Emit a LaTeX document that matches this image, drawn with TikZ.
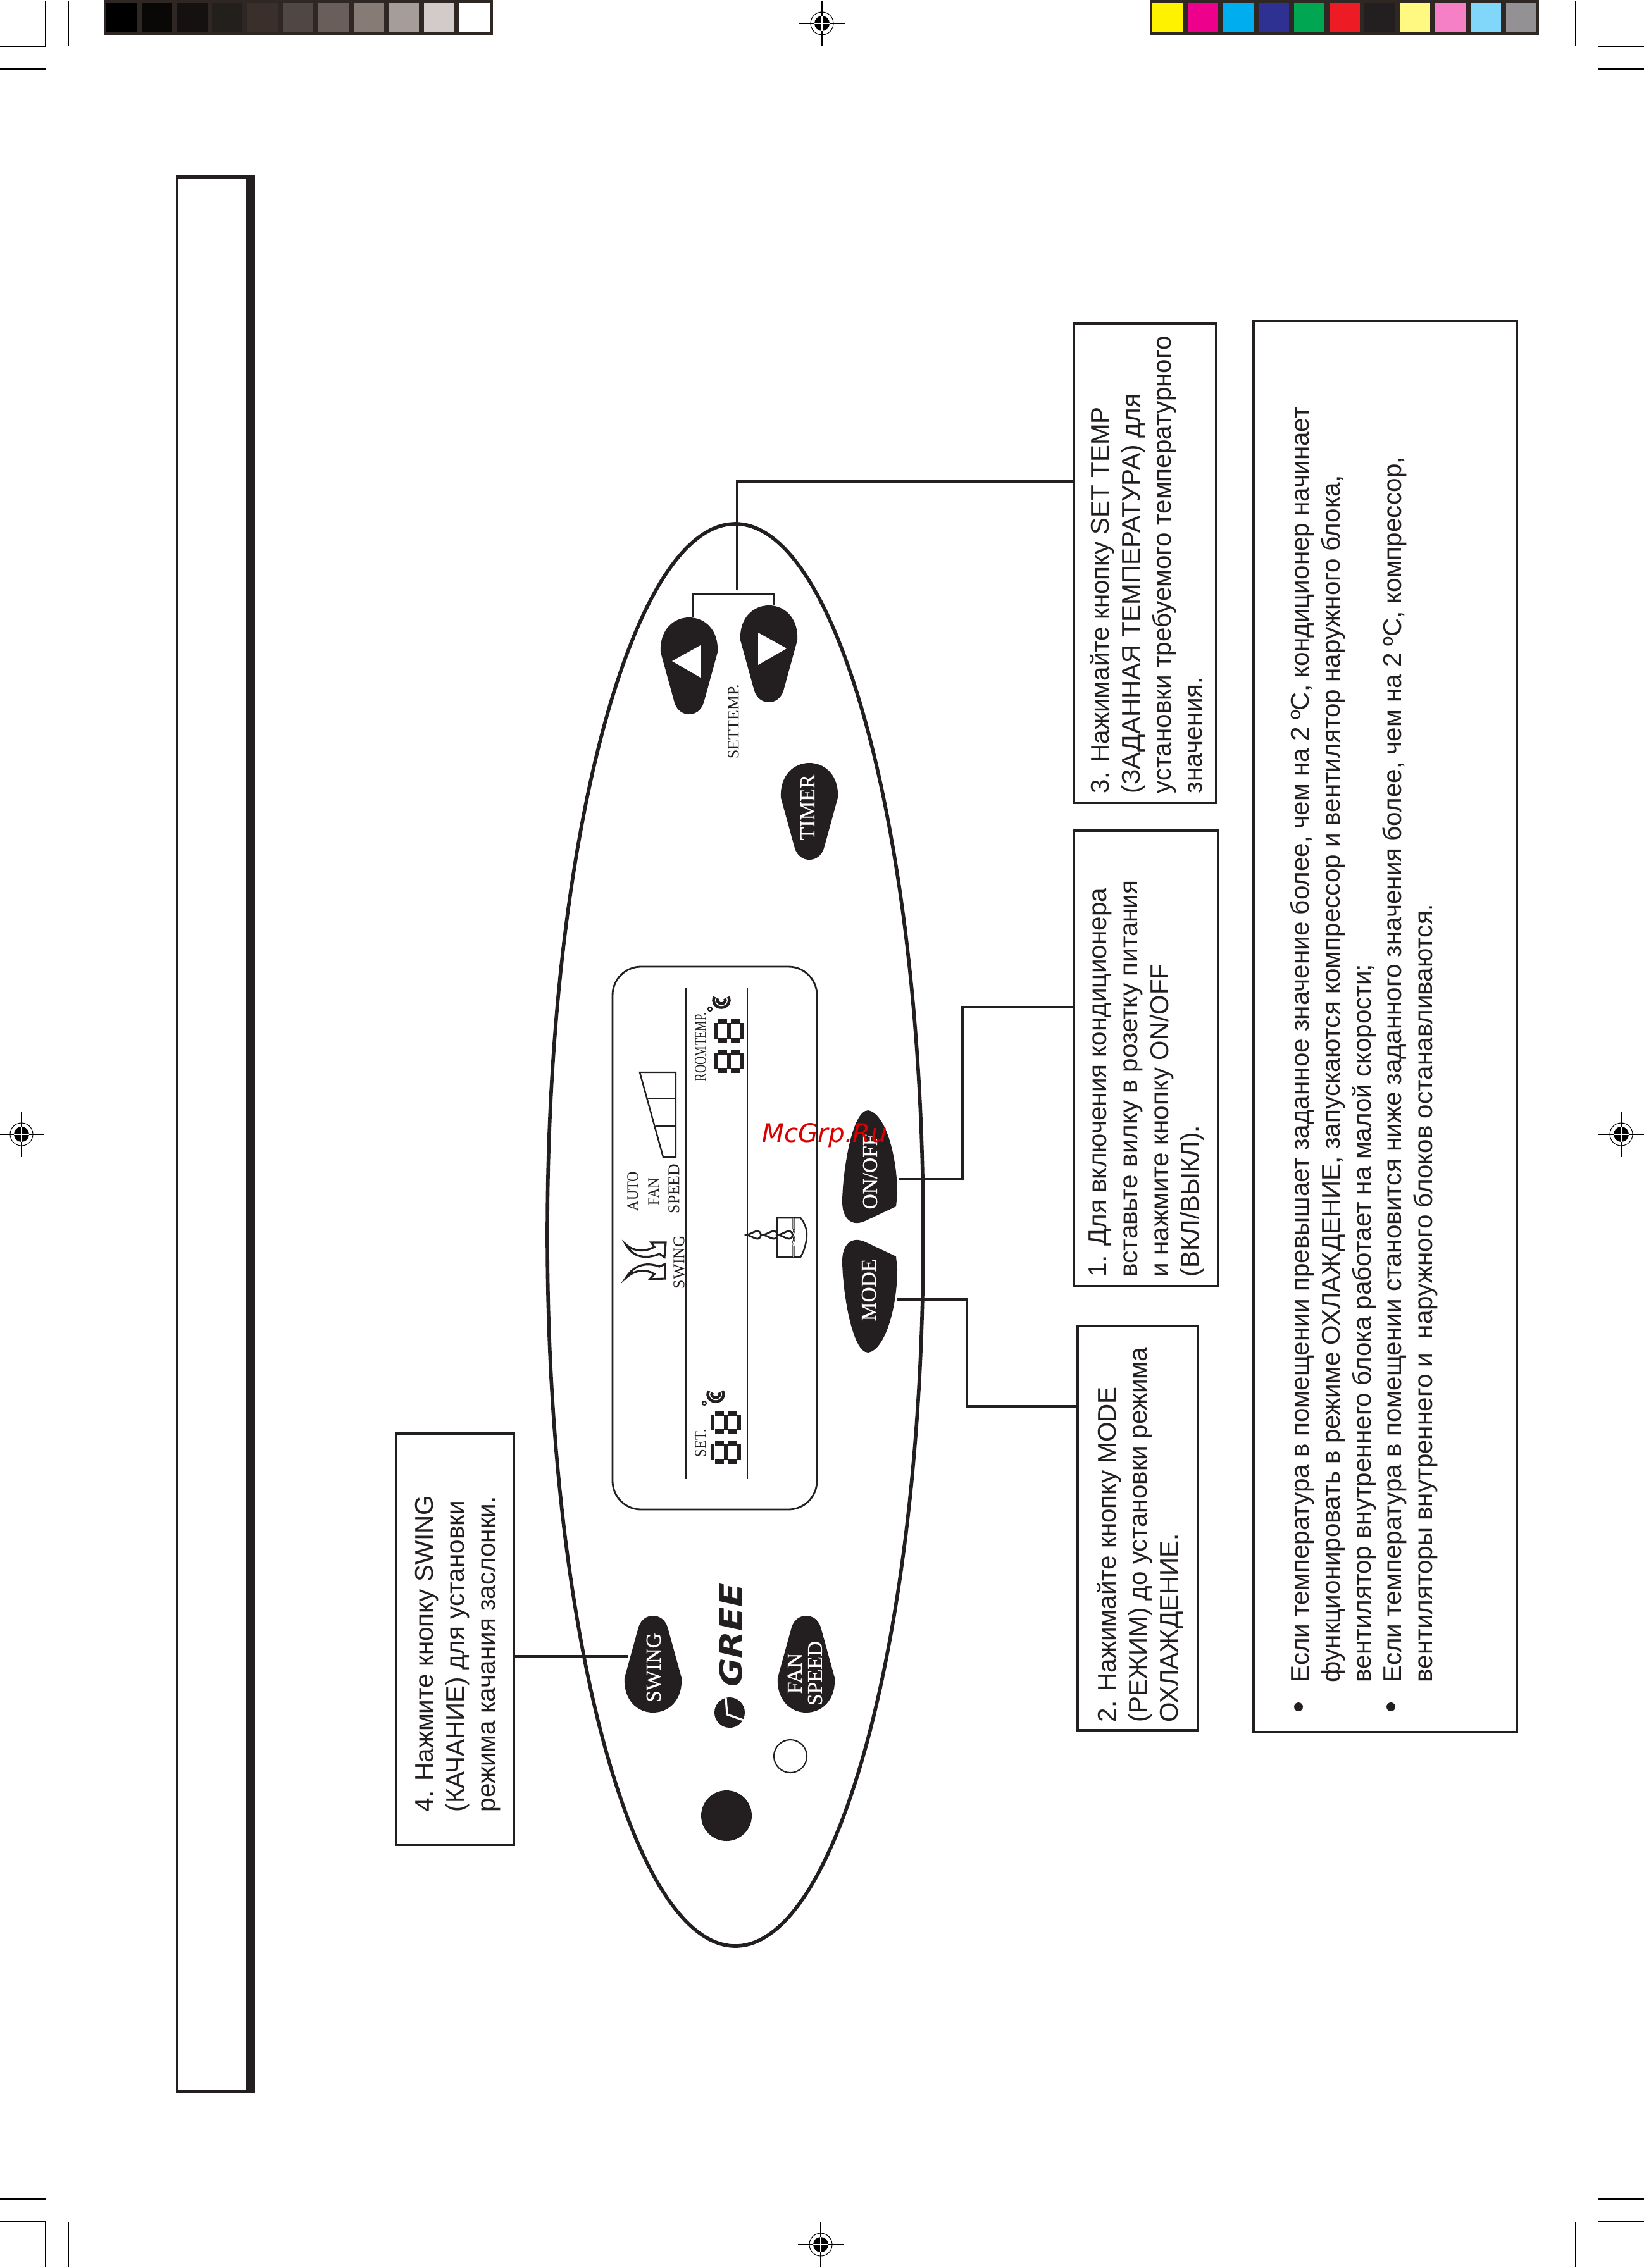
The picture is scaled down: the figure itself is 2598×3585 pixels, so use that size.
\documentclass[tikz,border=0pt]{standalone}
\usepackage{fontspec}
\setmainfont{Liberation Sans}
\newfontfamily\keyfont[FakeBold=0.6]{Liberation Serif}
\newfontfamily\lcdfont{Liberation Serif}
\newfontfamily\narrowfont[FakeStretch=0.88]{Liberation Serif}
\newfontfamily\roomfont[FakeStretch=0.72,WordSpace=0.2]{Liberation Serif}
\newfontfamily\tempfont[WordSpace=0.1]{Liberation Serif}
\newfontfamily\markfont{DejaVu Sans}
\newfontfamily\greefont[FakeStretch=1.15]{DejaVu Sans}
\definecolor{ink}{HTML}{231F20}
\definecolor{stripdark}{HTML}{2F2724}
\tikzset{
    wire/.style={ink, line width=1.1pt},
    notebox/.style={draw=ink, line width=1pt, inner sep=0pt, outer sep=0pt},
    notetext/.style={rotate=90, anchor=north west, inner sep=0pt, align=left, text=ink,
        font=\fontsize{11.5}{13.88}\selectfont},
    keylabel/.style={rotate=90, inner sep=0pt, text=white, align=center,
        font=\keyfont\fontsize{9.5}{9.1}\selectfont},
    lcdlabel/.style={rotate=90, inner sep=0pt, text=ink,
        font=\lcdfont\fontsize{7.3}{8}\selectfont},
    regmark/.pic={
        \draw[black, line width=0.3pt] (0,0) circle (18);
        \fill[black] (0,0) circle (12);
        \draw[black, line width=0.4pt] (-36,0) -- (36,0) (0,-36) -- (0,36);
        \draw[white, line width=0.4pt] (-12,0) -- (12,0) (0,-12) -- (0,12);
    },
    teardrop/.pic={
        \fill[ink] (-45,5) .. controls (-47,-30) and (-25,-50) .. (0,-50)
            .. controls (25,-50) and (47,-30) .. (45,5) -- (23,85)
            .. controls (19,97) and (10,103) .. (0,103)
            .. controls (-10,103) and (-19,97) .. (-23,85) -- cycle;
    },
    sidekey/.pic={
        \fill[ink] (0,0) .. controls (28,5) and (46,75) .. (46,132) -- (44,152) -- (-5,175)
            .. controls (-27,185) and (-41,170) .. (-41,145)
            .. controls (-41,105) and (-27,0) .. (0,0) -- cycle;
    },
    lcdeight/.pic={
        \foreach \s in {3,24,45}
            \draw[ink, line width=1.8pt] (\s,6) -- (\s,31);
        \foreach \s in {4,33} {
            \draw[ink, line width=2.4pt] (7,\s) -- (21,\s);
            \draw[ink, line width=2.4pt] (27,\s) -- (41,\s);
        }
    },
    lcddrop/.pic={
        \draw[ink, line width=0.8pt] (0,0) .. controls (8,-2) and (14,-7) .. (18,-6)
            .. controls (24,-5) and (24,5) .. (18,6) .. controls (14,7) and (8,2) .. (0,0) -- cycle;
    },
    lcdcelsius/.pic={
        \draw[ink, line width=0.6pt] (0,0) circle (3);
        \draw[ink, line width=1.3pt, double=white, double distance=0.4pt]
            (10,-18) .. controls (6,-12) and (11,-5.5) .. (18,-5.5)
            .. controls (25,-5.5) and (30,-12) .. (26,-18);
    }
}

\begin{document}
\begin{tikzpicture}[x=0.01cm, y=-0.01cm]
    \useasboundingbox (0,0) rectangle (2598,3585);

    % Grey strip
    \fill[stripdark] (164,0) rectangle (779,55);
    \foreach \i/\c in {0/000000,1/0A0806,2/141110,3/231F1C,4/3B2F2C,5/504643,6/6A5E5B,7/877B76,8/A69C99,9/D3CBCA,10/FFFFFF} {
        \definecolor{patch}{HTML}{\c}
        \fill[patch] ({168+55.8*\i},4) rectangle ({216+55.8*\i},51);
    }
    % Colour strip
    \fill[stripdark] (1817,0) rectangle (2432,55);
    \foreach \i/\c in {0/FFF200,1/EC008C,2/00AEEF,3/2E3192,4/00A651,5/ED1C24,6/231F20,7/FFF982,8/F680C5,9/80D7F9,10/939194} {
        \definecolor{patch}{HTML}{\c}
        \fill[patch] ({1821+55.9*\i},4) rectangle ({1869+55.9*\i},51);
    }

    % Crop marks
    \foreach \t/\e/\u in {2/73/109,3583/3512/3476} {
        \draw[black, line width=0.3pt] (72,\t) -- (72,\e) (108,\t) -- (108,\e)
            (2489,\t) -- (2489,\e) (2525,\t) -- (2525,\e);
        \draw[black, line width=0.4pt] (0,\e) -- (72,\e) (0,\u) -- (72,\u)
            (2525,\e) -- (2598,\e) (2525,\u) -- (2598,\u);
    }
    % Registration marks
    \pic at (1299,37) {regmark};
    \pic at (1297,3548) {regmark};
    \pic at (34,1793) {regmark};
    \pic at (2562,1793) {regmark};

    % Side panel
    \fill[ink] (278,276) rectangle (403,3308);
    \fill[white] (282,283) rectangle (388,3303);

    % Remote outline
    \draw[ink, line width=1.6pt] (1162,1952) ellipse [x radius=297, y radius=1124];

    % Display
    \draw[ink, line width=0.8pt, rounded corners=0.45cm] (968,1528) rectangle (1291,2386);
    \draw[ink, line width=0.8pt] (1084,1562) -- (1084,2338) (1181,1562) -- (1181,2338);
    \pic at (1128,1611) {lcdeight};
    \pic at (1128,1659) {lcdeight};
    \pic at (1123,2230) {lcdeight};
    \pic at (1123,2277) {lcdeight};
    \pic at (1122,1595) {lcdcelsius};
    \pic at (1113,2218) {lcdcelsius};
    \node[lcdlabel] (autotext) at (1000,1883) {\narrowfont AUTO};
    \node[lcdlabel] (fantext) at (1033,1884) {\narrowfont FAN};
    \node[lcdlabel] (speedtext) at (1065,1879) {SPEED};
    \node[lcdlabel] (swingtext) at (1073,1995) {SWING};
    \node[lcdlabel] (roomtext) at (1107,1655) {\roomfont ROOM TEMP.};
    \node[lcdlabel] (settext) at (1107,2281) {\narrowfont SET.};

    % Fan bars
    \draw[ink, line width=0.7pt] (1011,1695) -- (1068,1695) -- (1068,1829) -- (1048,1829) -- cycle;
    \draw[ink, line width=0.7pt] (1023,1736) -- (1068,1736) (1036,1780) -- (1068,1780);

    % Swing arrows
    \draw[ink, line width=0.9pt, fill=white] (989,1967) .. controls (1003,1980) and (1022,1978) .. (1034,1971)
        -- (1029,1964) -- (1052,1964) -- (1050,1987) -- (1042,1982)
        .. controls (1022,1990) and (1001,1989) .. (989,1967) -- cycle;
    \draw[ink, line width=0.9pt, fill=white] (989,2020) .. controls (1004,1996) and (1025,1996) .. (1042,2002)
        -- (1051,1998) -- (1051,2021) -- (1027,2022) -- (1034,2014)
        .. controls (1022,2006) and (1004,2006) .. (989,2020) -- cycle;

    % Drops
    \draw[ink, line width=0.7pt] (1228,1925) -- (1265,1925) .. controls (1271,1932) and (1275,1942) .. (1275,1951)
        .. controls (1275,1962) and (1271,1978) .. (1265,1987) -- (1228,1987) -- cycle;
    \draw[ink, line width=0.3pt, double=white, double distance=0.3pt] (1254,1925) -- (1254,1942)
        .. controls (1258,1946) and (1250,1950) .. (1254,1955) .. controls (1258,1960) and (1250,1964) .. (1254,1970) -- (1254,1987);
    \pic at (1180,1952) {lcddrop};
    \pic at (1206,1952) {lcddrop};
    \pic at (1230,1952) {lcddrop};

    % Buttons
    \pic at (1089,1026) {teardrop};
    \pic at (1215,1007) {teardrop};
    \pic at (1279,1256) {teardrop};
    \pic[rotate=180] at (1032,2657) {teardrop};
    \pic[rotate=180] at (1274,2657) {teardrop};
    \pic at (1372,1755) {sidekey};
    \pic[yscale=-1] at (1372,2138) {sidekey};
    \fill[white] (1062,1045) -- (1107,1020) -- (1107,1071) -- cycle;
    \fill[white] (1198,1000) -- (1198,1051) -- (1243,1025) -- cycle;
    \node[keylabel] (timerkey) at (1276,1276) {TIMER};
    \node[keylabel] (onoffkey) at (1375,1852) {ON/OFF};
    \node[keylabel] (modekey) at (1373,2039) {MODE};
    \node[keylabel] (swingkey) at (1033,2636) {SWING};
    \node[keylabel] (fankey) at (1272,2645) {FAN\\SPEED};
    \node[lcdlabel] (settemp) at (1159,1141) {\tempfont SET TEMP.};

    % Brand and sensors
    \fill[ink] (1153,2707) circle (24);
    \draw[white, line width=0.9pt] (1147,2684) -- (1149,2710) -- (1175,2719);
    \node[rotate=90, inner sep=0pt, text=ink, font=\greefont\fontsize{13.7}{14}\selectfont\bfseries\itshape] (gree) at (1155,2585) {GREE};
    \draw[ink, line width=0.6pt] (1249,2776) circle (26);
    \fill[ink] (1148,2870) circle (40);

    % Note boxes
    \node[notebox, minimum width=2.25cm, minimum height=7.58cm] (boxthree) at (1809.5,890) {};
    \node[notebox, minimum width=2.28cm, minimum height=7.2cm] (boxone) at (1811,1673) {};
    \node[notebox, minimum width=1.9cm, minimum height=6.39cm] (boxtwo) at (1798,2415.5) {};
    \node[notebox, minimum width=1.86cm, minimum height=6.5cm] (boxfour) at (719,2591) {};
    \node[notebox, minimum width=4.16cm, minimum height=22.29cm] (boxnote) at (2189,1622.5) {};

    \node[notetext] (textthree) at (1722,1255) {3. Нажимайте кнопку SET TEMP\\(ЗАДАННАЯ ТЕМПЕРАТУРА) для\\установки требуемого температурного\\значения.};
    \node[notetext] (textone) at (1720,2019) {1. Для включения кондиционера\\вставьте вилку в розетку питания\\и нажмите кнопку ON/OFF\\(ВКЛ/ВЫКЛ).};
    \node[notetext] (texttwo) at (1733,2723) {2. Нажимайте кнопку MODE\\(РЕЖИМ) до установки режима\\ОХЛАЖДЕНИЕ.};
    \node[notetext] (textfour) at (656,2865) {4. Нажмите кнопку SWING\\(КАЧАНИЕ) для установки\\режима качания заслонки.};
    \node[notetext] (textnote) at (2038,2660) {Если температура в помещении превышает заданное значение более, чем на 2 ºC, кондиционер начинает\\функционировать в режиме ОХЛАЖДЕНИЕ, запускаются компрессор и вентилятор наружного блока,\\вентилятор внутреннего блока работает на малой скорости;\\Если температура в помещении становится ниже заданного значения более, чем на 2 ºC, компрессор,\\вентиляторы внутреннего и\ \ наружного блоков останавливаются.};
    \fill[ink] (2052,2698) circle (7);
    \fill[ink] (2198,2698) circle (7);

    % Connectors
    \coordinate (onoffpin) at (1421,1864);
    \coordinate (modepin) at (1417,2054);
    \coordinate (swingpin) at (992,2618);
    \coordinate (settemppin) at (1165,933);
    \coordinate (leftpin) at (1095,976);
    \coordinate (rightpin) at (1223,957);
    \draw[wire] (onoffpin) -- ++(100,0) |- (boxone.west |- 0,1592);
    \draw[wire] (modepin) -- ++(111,0) |- (boxtwo.west |- 0,2223);
    \draw[wire] (boxfour.east |- swingpin) -- (swingpin);
    \draw[wire] (settemppin) |- (boxthree.west |- 0,761);
    \draw[ink, line width=0.8pt] (leftpin) |- (rightpin |- 0,939) -- (rightpin);

    % Watermark
    \node[inner sep=0pt, text=red!85!black, font=\markfont\fontsize{11.5}{12}\selectfont\itshape] (mcgrp) at (1303,1795) {McGrp.Ru};
\end{tikzpicture}
\end{document}
